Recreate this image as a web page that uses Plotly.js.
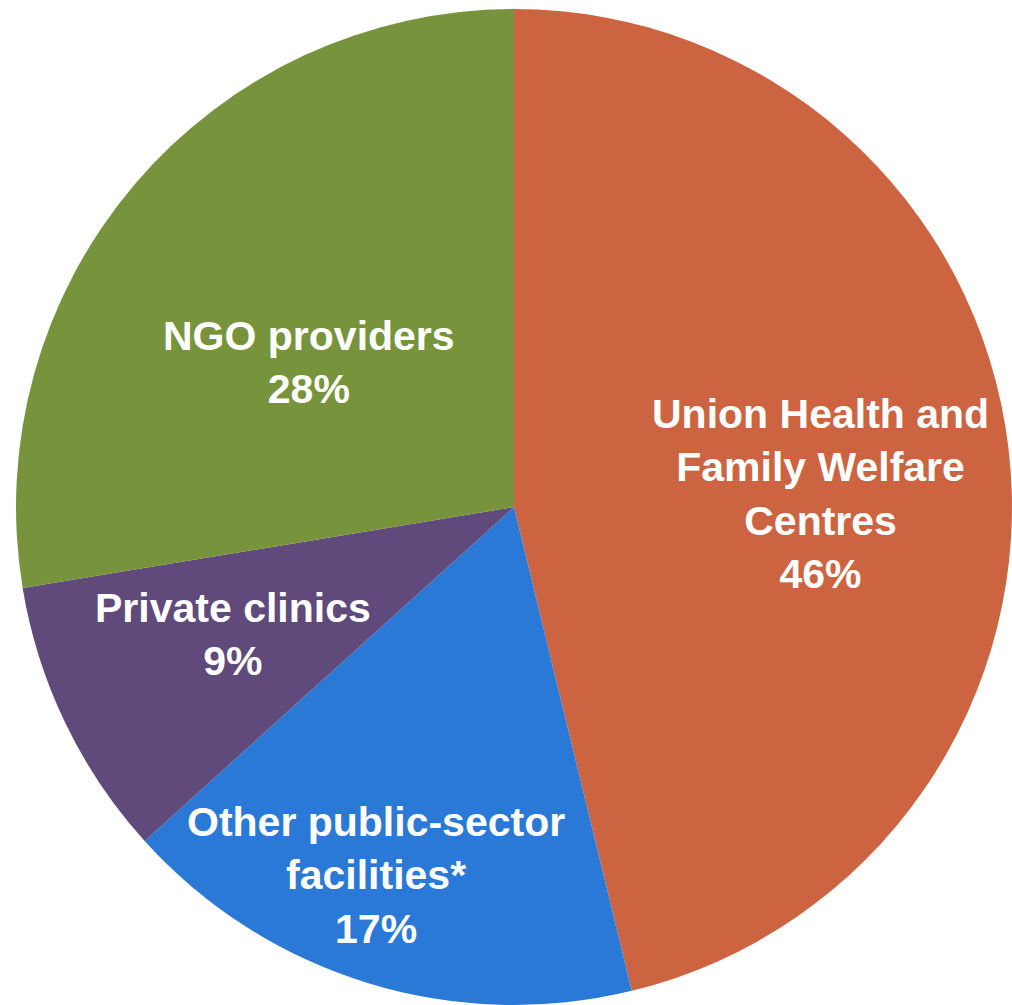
<!DOCTYPE html>
<html>
<head>
<meta charset="utf-8">
<script src="https://cdn.plot.ly/plotly-3.0.1.min.js"></script>
<style>html,body{margin:0;padding:0;background:#fff;}#chart{width:1012px;height:1005px;}</style>
</head>
<body>
<div id="chart"></div>
<script>
const categories = ["Union Health and<br>Family Welfare<br>Centres", "Other public-sector<br>facilities*", "Private clinics", "NGO providers"];
const shares = [46.2, 17.1, 9.1, 27.6];
const colors = ["#CC6441", "#2A79D6", "#604A7B", "#77933C"];

// label placement (style): radial fraction of the radius along each slice's mid-angle, plus pixel nudges
const labelRadius = [0.615, 0.79, 0.62, 0.508];
const labelShiftX = [2, -22, -3, -12];
const labelShiftY = [-23, 8, 7, -19];

const W = 1012, H = 1005;
const dom = {x: [0.0158, 1], y: [0, 0.991]};

// pie geometry derived from the domain (same rule Plotly uses)
const cxPx = (dom.x[0] + dom.x[1]) / 2 * W;
const cyPx = H - (dom.y[0] + dom.y[1]) / 2 * H;
const rPx = Math.min((dom.x[1] - dom.x[0]) * W, (dom.y[1] - dom.y[0]) * H) / 2;

const total = shares.reduce((a, b) => a + b, 0);
let cum = 0;
const annotations = shares.map((v, i) => {
  const mid = (cum + v / 2) / total * 2 * Math.PI; // clockwise from 12 o'clock
  cum += v;
  const px = cxPx + rPx * labelRadius[i] * Math.sin(mid);
  const py = cyPx - rPx * labelRadius[i] * Math.cos(mid);
  return {
    x: px / W, y: 1 - py / H, xref: "paper", yref: "paper",
    xanchor: "center", yanchor: "middle",
    xshift: labelShiftX[i], yshift: labelShiftY[i],
    showarrow: false, align: "center",
    text: categories[i] + "<br>" + Math.round(v / total * 100) + "%",
    font: {family: "Liberation Sans, Arial, sans-serif", size: 41, color: "#ffffff", weight: "bold"}
  };
});

const data = [{
  type: "pie",
  labels: categories,
  values: shares,
  sort: false,
  direction: "clockwise",
  rotation: 0,
  marker: {colors: colors, line: {width: 0}},
  textinfo: "none",
  hoverinfo: "none",
  domain: dom
}];

const layout = {
  width: W, height: H,
  margin: {l: 0, r: 0, t: 0, b: 0},
  showlegend: false,
  paper_bgcolor: "#ffffff",
  annotations: annotations
};

Plotly.newPlot("chart", data, layout, {staticPlot: true});
</script>
</body>
</html>
